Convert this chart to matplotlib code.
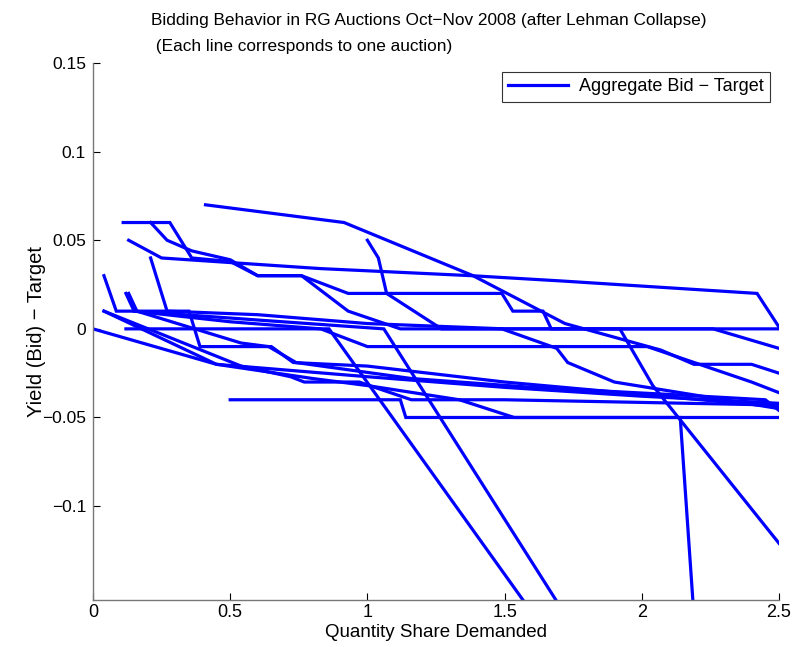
import matplotlib
matplotlib.use("Agg")
import matplotlib.pyplot as plt

# one list of (quantity share, yield - target) points per auction
auction_x = [
    [0.41, 0.915, 1.385, 1.72, 2.07, 2.19, 2.40, 2.5],
    [0.13, 0.25, 0.83, 1.38, 1.71, 2.42, 2.5],
    [0.21, 0.27, 0.36, 0.50, 0.60, 0.76, 0.93, 1.49, 1.53, 1.64, 1.67, 2.26, 2.5],
    [0.11, 0.28, 0.36, 0.50, 0.60, 0.76, 0.93, 1.12, 1.49, 1.69, 1.73, 1.90, 2.5],
    [1.0, 1.04, 1.07, 1.27, 1.92, 2.04, 2.5],
    [0.21, 0.27, 0.60, 1.0, 1.5, 2.5],
    [0.04, 0.085, 0.35, 0.39, 0.65, 0.73, 1.0, 1.5, 2.0, 2.5],
    [0.12, 0.15, 0.5, 0.83, 1.0, 2.02, 2.40, 2.5],
    [0.12, 0.86, 1.567],
    [0.15, 0.60, 1.06, 1.687],
    [0.0, 0.45, 1.0, 1.5, 2.0, 2.5],
    [0.04, 0.45, 0.8, 1.0, 1.335, 1.535, 2.14, 2.186],
    [0.5, 1.12, 1.14, 2.5],
    [0.13, 0.16, 0.54, 0.64, 0.74, 1.16, 1.6, 2.1, 2.45, 2.5],
    [0.04, 0.54, 0.72, 0.77, 0.97, 1.16, 1.5, 2.5],
]
auction_y = [
    [0.070, 0.060, 0.030, 0.003, -0.012, -0.020, -0.020, -0.025],
    [0.050, 0.040, 0.034, 0.030, 0.027, 0.020, 0.001],
    [0.060, 0.050, 0.044, 0.039, 0.030, 0.030, 0.020, 0.020, 0.010, 0.010, 0.0, 0.0, -0.011],
    [0.060, 0.060, 0.040, 0.038, 0.030, 0.030, 0.010, 0.0, 0.0, -0.011, -0.019, -0.030, -0.045],
    [0.050, 0.040, 0.020, 0.0, 0.0, -0.032, -0.121],
    [0.040, 0.010, 0.008, 0.003, 0.0, 0.0],
    [0.030, 0.010, 0.010, -0.010, -0.010, -0.019, -0.021, -0.030, -0.037, -0.044],
    [0.020, 0.010, 0.004, 0.0, -0.010, -0.010, -0.030, -0.036],
    [0.0, 0.0, -0.153],
    [0.010, 0.005, 0.0, -0.153],
    [0.0, -0.020, -0.027, -0.033, -0.038, -0.042],
    [0.010, -0.020, -0.028, -0.032, -0.040, -0.050, -0.050, -0.153],
    [-0.040, -0.040, -0.050, -0.050],
    [0.020, 0.010, -0.008, -0.010, -0.019, -0.028, -0.033, -0.037, -0.040, -0.046],
    [0.010, -0.021, -0.027, -0.030, -0.030, -0.040, -0.040, -0.043],
]

x_ticks = [0, 0.5, 1, 1.5, 2, 2.5]
x_tick_labels = ["0", "0.5", "1", "1.5", "2", "2.5"]
y_ticks = [-0.1, -0.05, 0, 0.05, 0.1, 0.15]
y_tick_labels = ["\u22120.1", "\u22120.05", "0", "0.05", "0.1", "0.15"]

plt.rcParams["font.family"] = ["Liberation Sans", "DejaVu Sans"]

fig = plt.figure(figsize=(7.92, 6.47), dpi=100)
ax = fig.add_axes([0.1174, 0.0726, 0.8662, 0.83])

for i, (xs, ys) in enumerate(zip(auction_x, auction_y)):
    ax.plot(xs, ys, color="#0000ff", lw=2.3, solid_joinstyle="miter",
            label="Aggregate Bid \u2212 Target" if i == 0 else None)

ax.set_xlim(0, 2.5)
ax.set_ylim(-0.153, 0.15)
ax.set_xticks(x_ticks)
ax.set_xticklabels(x_tick_labels, fontsize=13)
ax.set_yticks(y_ticks)
ax.set_yticklabels(y_tick_labels, fontsize=12.5)
ax.tick_params(direction="in", length=5, width=0.8, colors="black")
ax.tick_params(axis="x", pad=3)
ax.tick_params(axis="y", pad=5)
for side in ["top", "right"]:
    ax.spines[side].set_visible(False)
for side in ["left", "bottom"]:
    ax.spines[side].set_color("#777777")
    ax.spines[side].set_linewidth(1.0)

ax.set_xlabel("Quantity Share Demanded", fontsize=13.5, labelpad=2)
ax.set_ylabel("Yield (Bid) \u2212 Target", fontsize=14.5)
ax.yaxis.set_label_coords(-0.068, 0.5)

fig.text(0.541, 0.98, "Bidding Behavior in RG Auctions Oct\u2212Nov 2008 (after Lehman Collapse)\n"
         " (Each line corresponds to one auction)",
         ha="center", va="top", multialignment="left", linespacing=1.9, fontsize=12.4)

leg = ax.legend(loc="upper right", frameon=True, fancybox=False, borderaxespad=0.5,
                handlelength=3.3, handletextpad=0.6, borderpad=0.35, fontsize=13)
leg.get_frame().set_edgecolor("black")
leg.get_frame().set_linewidth(0.8)

fig.savefig("out.png", dpi=100)
